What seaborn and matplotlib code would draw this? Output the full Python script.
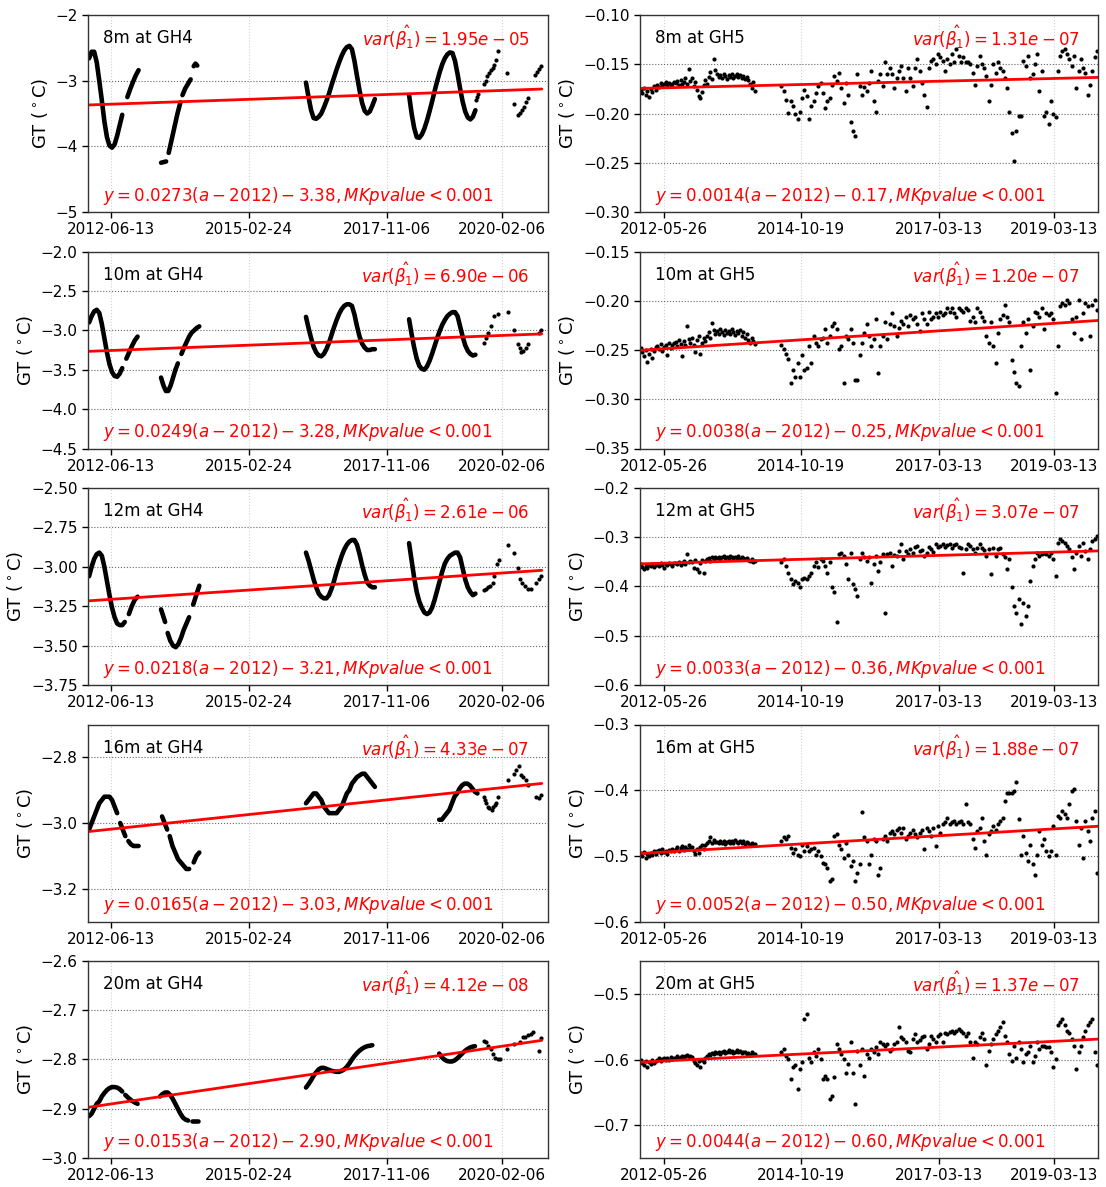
import numpy as np
import pandas as pd
import seaborn as sns
import matplotlib.pyplot as plt
from matplotlib.ticker import MultipleLocator

sns.set_style('ticks')
plt.rcParams['font.family'] = ['DejaVu Sans']
plt.rcParams['mathtext.fontset'] = 'dejavusans'
plt.rcParams['text.color'] = 'black'
plt.rcParams['axes.labelcolor'] = 'black'
plt.rcParams['xtick.color'] = 'black'
plt.rcParams['ytick.color'] = 'black'

# ---------------- panel texts / fit results ----------------
depths = ['8m', '10m', '12m', '16m', '20m']
gh4_var = ['1.95e-05', '6.90e-06', '2.61e-06', '4.33e-07', '4.12e-08']
gh5_var = ['1.31e-07', '1.20e-07', '3.07e-07', '1.88e-07', '1.37e-07']
gh4_slope = [0.0273, 0.0249, 0.0218, 0.0165, 0.0153]
gh4_icpt = [-3.38, -3.28, -3.21, -3.03, -2.90]
gh5_slope = [0.0014, 0.0038, 0.0033, 0.0052, 0.0044]
gh5_icpt = [-0.17, -0.25, -0.36, -0.50, -0.60]
# intercepts of the drawn red lines
gh4_line0 = [-3.37, -3.267, -3.216, -3.026, -2.897]
gh5_line0 = [-0.1745, -0.2503, -0.354, -0.4964, -0.604]

gh4_xticks = ['2012-06-13', '2015-02-24', '2017-11-06', '2020-02-06']
gh5_xticks = ['2012-05-26', '2014-10-19', '2017-03-13', '2019-03-13']
gh4_ylim = [(-5.0, -2.0), (-4.5, -2.0), (-3.75, -2.5), (-3.3, -2.7), (-3.0, -2.6)]
gh4_ystep = [1.0, 0.5, 0.25, 0.2, 0.1]
gh5_ylim = [(-0.30, -0.10), (-0.35, -0.15), (-0.6, -0.2), (-0.6, -0.3), (-0.75, -0.45)]
gh5_ystep = [0.05, 0.05, 0.1, 0.1, 0.1]

# ---------------- GH4 data (decimal years, GT) ----------------
gh4_8m_spans = [(2012.01, 2012.66), (2012.76, 2012.98), (2013.42, 2013.52), (2013.57, 2013.80),
                (2013.84, 2014.00), (2014.06, 2014.13), (2016.26, 2017.61), (2018.28, 2019.58)]
gh4_8m_segs = [
    [-2.66, -2.56, -2.56, -2.72, -3.00, -3.30, -3.62, -3.86, -3.99, -4.02, -3.97, -3.84, -3.68, -3.52],
    [-3.25, -3.13, -3.02, -2.92, -2.84],
    [-4.25, -4.24, -4.23],
    [-4.10, -3.90, -3.70, -3.50, -3.33],
    [-3.22, -3.12, -3.05, -2.98],
    [-2.78, -2.74, -2.77],
    [-3.03, -3.25, -3.45, -3.57, -3.58, -3.55, -3.50, -3.41, -3.31, -3.20, -3.07, -2.95, -2.83, -2.72,
     -2.62, -2.54, -2.49, -2.47, -2.52, -2.70, -2.93, -3.15, -3.34, -3.46, -3.50, -3.47, -3.38, -3.28],
    [-3.22, -3.50, -3.72, -3.86, -3.87, -3.82, -3.73, -3.61, -3.47, -3.32, -3.16, -3.01, -2.87, -2.75,
     -2.66, -2.60, -2.57, -2.58, -2.70, -2.90, -3.12, -3.32, -3.47, -3.56, -3.59, -3.55, -3.45],
]
gh4_8m_dot_t = [2019.59, 2019.61, 2019.63, 2019.74, 2019.78, 2019.81, 2019.85, 2019.88, 2019.92, 2019.95,
                2019.99, 2020.03, 2020.20, 2020.33, 2020.41, 2020.45, 2020.50, 2020.53, 2020.58, 2020.61,
                2020.74, 2020.78, 2020.83, 2020.86]
gh4_8m_dot_v = [-3.30, -3.25, -3.20, -3.05, -3.00, -2.93, -2.88, -2.84, -2.80, -2.76, -2.68, -2.55, -2.88,
                -3.36, -3.52, -3.49, -3.45, -3.40, -3.33, -3.27, -2.92, -2.87, -2.82, -2.78]

gh4_10m_spans = [(2012.01, 2012.66), (2012.74, 2012.96), (2013.42, 2013.75), (2013.82, 2014.17),
                 (2016.26, 2017.61), (2018.28, 2019.58)]
gh4_10m_segs = [
    [-2.90, -2.82, -2.76, -2.74, -2.78, -2.92, -3.10, -3.28, -3.43, -3.53, -3.58, -3.59, -3.55, -3.48],
    [-3.36, -3.28, -3.20, -3.13, -3.08],
    [-3.60, -3.70, -3.77, -3.77, -3.70, -3.60, -3.50, -3.42],
    [-3.30, -3.22, -3.15, -3.08, -3.03, -3.00, -2.97, -2.95],
    [-2.83, -2.97, -3.10, -3.21, -3.28, -3.32, -3.33, -3.30, -3.24, -3.16, -3.06, -2.96, -2.87, -2.79,
     -2.73, -2.69, -2.67, -2.67, -2.69, -2.80, -2.95, -3.08, -3.17, -3.22, -3.25, -3.25, -3.24, -3.24],
    [-2.86, -3.05, -3.22, -3.36, -3.45, -3.49, -3.50, -3.46, -3.39, -3.30, -3.20, -3.10, -3.01, -2.93,
     -2.87, -2.82, -2.79, -2.77, -2.77, -2.82, -2.95, -3.08, -3.19, -3.26, -3.30, -3.32, -3.31],
]
gh4_10m_dot_t = [2019.74, 2019.78, 2019.83, 2019.88, 2019.95, 2020.03, 2020.22, 2020.33, 2020.41, 2020.45,
                 2020.48, 2020.52, 2020.57, 2020.61, 2020.82, 2020.87]
gh4_10m_dot_v = [-3.16, -3.10, -3.03, -2.95, -2.82, -2.79, -2.77, -2.99, -3.18, -3.23, -3.27, -3.26,
                 -3.22, -3.17, -3.03, -2.99]

gh4_12m_spans = [(2012.01, 2012.71), (2012.79, 2012.96), (2013.42, 2013.50), (2013.55, 2013.97),
                 (2014.05, 2014.17), (2016.26, 2017.61), (2018.28, 2019.58)]
gh4_12m_segs = [
    [-3.06, -3.00, -2.95, -2.92, -2.91, -2.93, -3.00, -3.09, -3.18, -3.26, -3.32, -3.36, -3.37, -3.37, -3.35],
    [-3.30, -3.25, -3.21, -3.19],
    [-3.27, -3.31, -3.35],
    [-3.42, -3.47, -3.50, -3.51, -3.49, -3.45, -3.40, -3.36, -3.32],
    [-3.24, -3.20, -3.16, -3.12],
    [-2.91, -2.96, -3.02, -3.08, -3.13, -3.17, -3.19, -3.20, -3.20, -3.18, -3.14, -3.09, -3.03, -2.98,
     -2.93, -2.89, -2.86, -2.84, -2.83, -2.83, -2.86, -2.92, -2.99, -3.05, -3.10, -3.12, -3.13, -3.13],
    [-2.85, -2.96, -3.07, -3.16, -3.22, -3.26, -3.29, -3.30, -3.29, -3.26, -3.21, -3.15, -3.09, -3.03,
     -2.98, -2.95, -2.93, -2.92, -2.91, -2.91, -2.94, -3.01, -3.08, -3.13, -3.16, -3.18, -3.17],
]
gh4_12m_dot_t = [2019.74, 2019.79, 2019.83, 2019.86, 2019.92, 2019.95, 2020.00, 2020.04, 2020.22, 2020.33,
                 2020.41, 2020.45, 2020.50, 2020.55, 2020.61, 2020.66, 2020.77, 2020.82, 2020.87]
gh4_12m_dot_v = [-3.15, -3.14, -3.13, -3.12, -3.10, -3.06, -2.98, -2.96, -2.86, -2.91, -3.01, -3.08,
                 -3.10, -3.12, -3.14, -3.14, -3.10, -3.08, -3.06]

gh4_16m_spans = [(2012.01, 2012.56), (2012.62, 2012.72), (2012.78, 2012.98), (2013.44, 2013.54),
                 (2013.59, 2013.97), (2014.06, 2014.17), (2016.26, 2017.61), (2018.87, 2019.62)]
gh4_16m_segs = [
    [-3.02, -3.00, -2.98, -2.96, -2.94, -2.93, -2.92, -2.92, -2.92, -2.93, -2.95, -2.97],
    [-3.00, -3.02, -3.04],
    [-3.055, -3.065, -3.07, -3.07, -3.07],
    [-2.98, -3.00, -3.02],
    [-3.04, -3.07, -3.09, -3.11, -3.12, -3.13, -3.14, -3.14],
    [-3.12, -3.10, -3.09],
    [-2.94, -2.93, -2.92, -2.91, -2.91, -2.92, -2.93, -2.95, -2.96, -2.97, -2.97, -2.97, -2.97, -2.96,
     -2.95, -2.93, -2.91, -2.90, -2.88, -2.87, -2.86, -2.855, -2.85, -2.85, -2.86, -2.87, -2.88, -2.89],
    [-2.99, -2.99, -2.98, -2.97, -2.96, -2.94, -2.92, -2.91, -2.895, -2.885, -2.88, -2.88, -2.885,
     -2.895, -2.905, -2.91],
]
gh4_16m_dot_t = [2019.74, 2019.76, 2019.79, 2019.82, 2019.85, 2019.90, 2019.93, 2019.96, 2019.99, 2020.03,
                 2020.22, 2020.33, 2020.38, 2020.43, 2020.47, 2020.52, 2020.57, 2020.61, 2020.77, 2020.82,
                 2020.87]
gh4_16m_dot_v = [-2.92, -2.93, -2.94, -2.95, -2.955, -2.96, -2.95, -2.945, -2.94, -2.92, -2.87, -2.85,
                 -2.84, -2.825, -2.855, -2.86, -2.87, -2.885, -2.92, -2.925, -2.915]

gh4_20m_spans = [(2012.01, 2012.66), (2012.72, 2012.96), (2013.40, 2013.95), (2014.02, 2014.15),
                 (2016.26, 2017.56), (2018.87, 2019.57)]
gh4_20m_segs = [
    [-2.915, -2.91, -2.90, -2.89, -2.885, -2.875, -2.868, -2.862, -2.858, -2.856, -2.856, -2.857, -2.86, -2.865],
    [-2.872, -2.878, -2.883, -2.887, -2.89],
    [-2.875, -2.870, -2.867, -2.867, -2.872, -2.880, -2.890, -2.900, -2.910, -2.918, -2.922, -2.924],
    [-2.925, -2.925, -2.925],
    [-2.857, -2.850, -2.842, -2.833, -2.826, -2.820, -2.817, -2.817, -2.819, -2.821, -2.823, -2.824,
     -2.825, -2.825, -2.823, -2.820, -2.815, -2.808, -2.800, -2.793, -2.787, -2.782, -2.778, -2.775,
     -2.773, -2.772, -2.771],
    [-2.788, -2.795, -2.800, -2.803, -2.804, -2.804, -2.802, -2.798, -2.793, -2.788, -2.783, -2.779,
     -2.776, -2.774, -2.773],
]
gh4_20m_dot_t = [2019.75, 2019.78, 2019.83, 2019.88, 2019.92, 2019.97, 2020.02, 2020.06, 2020.20, 2020.34,
                 2020.45, 2020.52, 2020.55, 2020.61, 2020.66, 2020.71, 2020.83, 2020.86]
gh4_20m_dot_v = [-2.762, -2.765, -2.773, -2.779, -2.789, -2.796, -2.799, -2.799, -2.778, -2.769, -2.764,
                 -2.755, -2.754, -2.750, -2.748, -2.744, -2.782, -2.757]

# ---------------- GH5 data: dense 2012-2013 record, then sparser 2014.45-2019.95 ----------------
gh5_dense_span = (2012.0, 2013.99)
gh5_sparse_span = (2014.45, 2019.95)

gh5_8m_dense = [
    -0.176, -0.179, -0.174, -0.181, -0.177, -0.183, -0.175, -0.178, -0.172, -0.176,
    -0.171, -0.173, -0.169, -0.172, -0.170, -0.168, -0.171, -0.169, -0.172, -0.170, -0.168,
    -0.169, -0.167, -0.171, -0.166, -0.170, -0.168, -0.164, -0.170, -0.155, -0.167,
    -0.164, -0.172, -0.168, -0.176, -0.182, -0.184, -0.178, -0.171, -0.166,
    -0.170, -0.163, -0.158, -0.165, -0.145, -0.156,
    -0.160, -0.163, -0.161, -0.164, -0.160, -0.162, -0.165, -0.161, -0.163, -0.160, -0.164, -0.162,
    -0.160, -0.163, -0.161, -0.164, -0.162, -0.165, -0.163,
    -0.166, -0.170, -0.174, -0.168, -0.177]
gh5_8m_sparse = [
    -0.172, -0.177, -0.186, -0.199, -0.187, -0.192, -0.201, -0.206,
    -0.198, -0.184, -0.176, -0.182, -0.206, -0.192, -0.187, -0.179, -0.172, -0.169,
    -0.179, -0.194, -0.187, -0.184, -0.171, -0.162, -0.167, -0.159, -0.174,
    -0.189, -0.169, -0.181, -0.209, -0.218, -0.223,
    -0.160, -0.172, -0.181, -0.173, -0.177, -0.169, -0.157, -0.187, -0.198,
    -0.167, -0.160, -0.172, -0.148, -0.160, -0.154, -0.160, -0.174, -0.164, -0.157,
    -0.152, -0.164, -0.177, -0.154, -0.164, -0.172, -0.154, -0.145, -0.157,
    -0.169, -0.181, -0.193, -0.154, -0.147, -0.145, -0.150, -0.140, -0.143,
    -0.147, -0.157, -0.145, -0.150, -0.140, -0.148, -0.135, -0.142, -0.148, -0.143,
    -0.148, -0.148, -0.150, -0.159, -0.171, -0.152, -0.142, -0.150, -0.154,
    -0.162, -0.187, -0.171, -0.150, -0.159, -0.148, -0.154, -0.157, -0.164,
    -0.174, -0.198, -0.220, -0.248, -0.218, -0.203,
    -0.203, -0.147, -0.152, -0.142, -0.164, -0.160, -0.150, -0.140, -0.177, -0.157,
    -0.203, -0.198, -0.211, -0.187, -0.201, -0.204,
    -0.157, -0.142, -0.137, -0.135, -0.140, -0.145, -0.152, -0.142, -0.174,
    -0.157, -0.145, -0.154, -0.159, -0.181, -0.171, -0.157, -0.143, -0.137]

gh5_10m_dense = [
    -0.248, -0.252, -0.256, -0.250, -0.262, -0.254, -0.249, -0.258, -0.251, -0.247,
    -0.246, -0.249, -0.244, -0.251, -0.247, -0.245, -0.255, -0.243, -0.248, -0.245, -0.243,
    -0.242, -0.246, -0.240, -0.244, -0.256, -0.241, -0.245, -0.226, -0.239, -0.243,
    -0.238, -0.245, -0.252, -0.240, -0.236, -0.254, -0.243, -0.238, -0.241,
    -0.236, -0.232, -0.238, -0.223, -0.230, -0.234,
    -0.231, -0.234, -0.229, -0.232, -0.235, -0.230, -0.233, -0.231, -0.234, -0.229, -0.232, -0.235,
    -0.231, -0.233, -0.230, -0.236, -0.232, -0.238, -0.234,
    -0.240, -0.243, -0.238, -0.241, -0.244]
gh5_10m_sparse = [
    -0.245, -0.249, -0.254, -0.259, -0.284, -0.270, -0.277, -0.263,
    -0.277, -0.255, -0.270, -0.268, -0.246, -0.263, -0.236, -0.243, -0.246, -0.239,
    -0.238, -0.229, -0.243, -0.236, -0.226, -0.223, -0.229, -0.249, -0.246,
    -0.284, -0.236, -0.239, -0.229, -0.243, -0.280,
    -0.280, -0.255, -0.243, -0.233, -0.224, -0.236, -0.246, -0.239, -0.219,
    -0.273, -0.246, -0.236, -0.222, -0.239, -0.224, -0.212, -0.226, -0.236, -0.228,
    -0.221, -0.224, -0.216, -0.226, -0.214, -0.219, -0.217, -0.224, -0.231,
    -0.212, -0.219, -0.224, -0.211, -0.219, -0.216, -0.212, -0.217, -0.211,
    -0.214, -0.212, -0.207, -0.211, -0.207, -0.212, -0.216, -0.207, -0.209, -0.211,
    -0.207, -0.209, -0.221, -0.216, -0.222, -0.207, -0.211, -0.216, -0.221,
    -0.236, -0.243, -0.222, -0.246, -0.263, -0.233, -0.219, -0.214, -0.204,
    -0.216, -0.222, -0.260, -0.272, -0.284, -0.287,
    -0.246, -0.222, -0.233, -0.219, -0.270, -0.226, -0.211, -0.212, -0.216, -0.207,
    -0.229, -0.212, -0.214, -0.212, -0.219, -0.294,
    -0.246, -0.205, -0.202, -0.204, -0.199, -0.202, -0.219, -0.233, -0.216,
    -0.199, -0.239, -0.212, -0.202, -0.205, -0.236, -0.204, -0.199, -0.209]

gh5_12m_dense = [
    -0.355, -0.360, -0.364, -0.358, -0.362, -0.356, -0.359, -0.354, -0.361, -0.357,
    -0.355, -0.358, -0.353, -0.356, -0.362, -0.354, -0.357, -0.352, -0.355, -0.358, -0.353,
    -0.352, -0.355, -0.350, -0.357, -0.353, -0.349, -0.354, -0.334, -0.351, -0.348,
    -0.350, -0.362, -0.347, -0.365, -0.370, -0.352, -0.346, -0.372, -0.349,
    -0.345, -0.342, -0.348, -0.340, -0.344, -0.341,
    -0.342, -0.340, -0.344, -0.341, -0.339, -0.343, -0.340, -0.342, -0.338, -0.341, -0.343, -0.340,
    -0.342, -0.339, -0.344, -0.341, -0.343, -0.345, -0.342,
    -0.346, -0.349, -0.345, -0.350, -0.348]
gh5_12m_sparse = [
    -0.351, -0.344, -0.358, -0.372, -0.385, -0.395, -0.388, -0.392,
    -0.402, -0.385, -0.382, -0.385, -0.378, -0.372, -0.358, -0.351, -0.361, -0.344,
    -0.348, -0.358, -0.372, -0.351, -0.402, -0.412, -0.473, -0.334, -0.331,
    -0.338, -0.355, -0.385, -0.331, -0.395, -0.405,
    -0.419, -0.344, -0.331, -0.341, -0.348, -0.341, -0.392, -0.355, -0.338,
    -0.368, -0.351, -0.334, -0.453, -0.334, -0.331, -0.358, -0.336, -0.338, -0.327,
    -0.314, -0.344, -0.327, -0.334, -0.324, -0.331, -0.320, -0.317, -0.327,
    -0.325, -0.338, -0.331, -0.320, -0.324, -0.329, -0.314, -0.320, -0.317,
    -0.314, -0.319, -0.316, -0.313, -0.321, -0.316, -0.314, -0.319, -0.321, -0.372,
    -0.324, -0.314, -0.317, -0.323, -0.331, -0.321, -0.314, -0.321, -0.325,
    -0.338, -0.324, -0.375, -0.321, -0.338, -0.324, -0.321, -0.334, -0.341,
    -0.365, -0.344, -0.402, -0.439, -0.453, -0.426,
    -0.477, -0.433, -0.460, -0.439, -0.388, -0.358, -0.344, -0.331, -0.338, -0.334,
    -0.331, -0.334, -0.338, -0.331, -0.344, -0.378,
    -0.311, -0.304, -0.307, -0.311, -0.317, -0.324, -0.341, -0.365, -0.331,
    -0.317, -0.338, -0.311, -0.327, -0.344, -0.324, -0.307, -0.304, -0.297]

gh5_16m_dense = [
    -0.496, -0.500, -0.494, -0.503, -0.497, -0.501, -0.495, -0.499, -0.493, -0.497,
    -0.493, -0.491, -0.495, -0.490, -0.494, -0.492, -0.497, -0.491, -0.493, -0.489, -0.492,
    -0.490, -0.487, -0.492, -0.488, -0.485, -0.491, -0.486, -0.489, -0.484, -0.488,
    -0.487, -0.492, -0.497, -0.490, -0.495, -0.486, -0.484, -0.489, -0.483,
    -0.481, -0.478, -0.471, -0.480, -0.476, -0.479,
    -0.479, -0.481, -0.477, -0.480, -0.478, -0.482, -0.479, -0.477, -0.481, -0.478, -0.480, -0.476,
    -0.479, -0.481, -0.477, -0.480, -0.478, -0.482, -0.479,
    -0.481, -0.483, -0.480, -0.484, -0.482]
gh5_16m_sparse = [
    -0.478, -0.472, -0.475, -0.470, -0.488, -0.495, -0.490, -0.498,
    -0.500, -0.483, -0.493, -0.485, -0.493, -0.490, -0.488, -0.498, -0.493, -0.500,
    -0.511, -0.513, -0.518, -0.539, -0.536, -0.470, -0.467, -0.483, -0.490,
    -0.503, -0.480, -0.498, -0.516, -0.508, -0.539,
    -0.526, -0.513, -0.434, -0.472, -0.478, -0.513, -0.498, -0.475, -0.478,
    -0.529, -0.518, -0.475, -0.470, -0.478, -0.465, -0.462, -0.467, -0.460, -0.457,
    -0.465, -0.457, -0.475, -0.470, -0.465, -0.460, -0.467, -0.472, -0.465,
    -0.460, -0.490, -0.457, -0.462, -0.470, -0.457, -0.485, -0.455, -0.465,
    -0.452, -0.449, -0.442, -0.452, -0.449, -0.447, -0.452, -0.449, -0.447, -0.452,
    -0.421, -0.449, -0.452, -0.475, -0.488, -0.462, -0.457, -0.442, -0.478,
    -0.498, -0.467, -0.462, -0.455, -0.460, -0.452, -0.447, -0.442, -0.416,
    -0.404, -0.404, -0.404, -0.401, -0.388, -0.444,
    -0.498, -0.470, -0.495, -0.508, -0.483, -0.513, -0.529, -0.498, -0.462, -0.483,
    -0.475, -0.493, -0.500, -0.493, -0.455, -0.498,
    -0.439, -0.442, -0.432, -0.437, -0.442, -0.421, -0.401, -0.398, -0.447,
    -0.483, -0.457, -0.503, -0.447, -0.462, -0.478, -0.442, -0.432, -0.526]

gh5_20m_dense = [
    -0.601, -0.605, -0.609, -0.603, -0.611, -0.604, -0.607, -0.600, -0.606, -0.602,
    -0.600, -0.598, -0.602, -0.599, -0.597, -0.601, -0.598, -0.600, -0.596, -0.599, -0.597,
    -0.597, -0.595, -0.598, -0.596, -0.594, -0.597, -0.595, -0.593, -0.596, -0.594,
    -0.596, -0.602, -0.605, -0.609, -0.603, -0.611, -0.600, -0.604, -0.598,
    -0.594, -0.591, -0.593, -0.590, -0.592, -0.589,
    -0.590, -0.588, -0.591, -0.589, -0.587, -0.590, -0.588, -0.586, -0.589, -0.587, -0.590, -0.588,
    -0.586, -0.589, -0.587, -0.590, -0.588, -0.589, -0.591,
    -0.590, -0.593, -0.589, -0.592, -0.591]
gh5_20m_sparse = [
    -0.589, -0.584, -0.594, -0.599, -0.630, -0.612, -0.609, -0.645,
    -0.614, -0.604, -0.538, -0.530, -0.597, -0.604, -0.589, -0.594, -0.584, -0.599,
    -0.630, -0.625, -0.630, -0.660, -0.655, -0.627, -0.576, -0.584, -0.592,
    -0.599, -0.620, -0.607, -0.574, -0.620, -0.668,
    -0.587, -0.609, -0.584, -0.625, -0.592, -0.597, -0.584, -0.589, -0.581,
    -0.592, -0.574, -0.576, -0.579, -0.576, -0.587, -0.584, -0.576, -0.574, -0.551,
    -0.566, -0.569, -0.574, -0.587, -0.589, -0.569, -0.561, -0.574, -0.571,
    -0.566, -0.564, -0.584, -0.576, -0.564, -0.569, -0.574, -0.564, -0.561,
    -0.574, -0.559, -0.561, -0.558, -0.556, -0.559, -0.556, -0.553, -0.556, -0.559,
    -0.564, -0.559, -0.574, -0.597, -0.574, -0.576, -0.566, -0.559, -0.569,
    -0.609, -0.587, -0.576, -0.569, -0.561, -0.556, -0.551, -0.543, -0.564,
    -0.574, -0.592, -0.602, -0.579, -0.597, -0.574,
    -0.584, -0.604, -0.592, -0.589, -0.579, -0.604, -0.594, -0.574, -0.584, -0.579,
    -0.579, -0.581, -0.581, -0.589, -0.612, -0.599,
    -0.548, -0.543, -0.538, -0.548, -0.556, -0.559, -0.569, -0.579, -0.614,
    -0.589, -0.579, -0.566, -0.556, -0.548, -0.543, -0.538, -0.589, -0.609]

gh4_spans = [gh4_8m_spans, gh4_10m_spans, gh4_12m_spans, gh4_16m_spans, gh4_20m_spans]
gh4_segs = [gh4_8m_segs, gh4_10m_segs, gh4_12m_segs, gh4_16m_segs, gh4_20m_segs]
gh4_dot_t = [gh4_8m_dot_t, gh4_10m_dot_t, gh4_12m_dot_t, gh4_16m_dot_t, gh4_20m_dot_t]
gh4_dot_v = [gh4_8m_dot_v, gh4_10m_dot_v, gh4_12m_dot_v, gh4_16m_dot_v, gh4_20m_dot_v]
gh5_dense = [gh5_8m_dense, gh5_10m_dense, gh5_12m_dense, gh5_16m_dense, gh5_20m_dense]
gh5_sparse = [gh5_8m_sparse, gh5_10m_sparse, gh5_12m_sparse, gh5_16m_sparse, gh5_20m_sparse]


def yr(t):
    # decimal year -> timestamps
    t = np.atleast_1d(np.asarray(t, dtype=float))
    return pd.Timestamp('2012-01-01') + pd.to_timedelta((t - 2012.0) * 365.25, unit='D')


def span_dates(t0, t1, n):
    return pd.date_range(yr(t0)[0], yr(t1)[0], periods=n)


def style_axis(ax, ylim, ystep, xticks, xlim, label, var, slope, icpt):
    ax.set_ylim(*ylim)
    ax.yaxis.set_major_locator(MultipleLocator(ystep))
    ax.set_xticks(pd.to_datetime(xticks))
    ax.set_xticklabels(xticks)
    ax.set_xlim(pd.Timestamp(xlim[0]), pd.Timestamp(xlim[1]))
    ax.grid(axis='y', linestyle=':', color='0.4', linewidth=0.8)
    ax.grid(axis='x', linestyle=':', color='0.82', linewidth=0.8)
    ax.set_axisbelow(True)
    ax.tick_params(labelsize=11, length=4, width=1)
    for s in ax.spines.values():
        s.set_linewidth(1.0)
        s.set_color('0.2')
    ax.set_xlabel('')
    ax.set_ylabel(r'GT ($^\circ$C)', fontsize=13)
    ax.text(0.033, 0.883, label, transform=ax.transAxes, fontsize=12, va='center', ha='left',
            color='black')
    ax.text(0.96, 0.883, r'$var(\hat{\beta_1}) = %s$' % var,
            transform=ax.transAxes, fontsize=12, va='center', ha='right', color='red')
    ax.text(0.033, 0.082, r'$y = %.4f(a-2012) - %.2f, MKpvalue < 0.001$' % (slope, -icpt),
            transform=ax.transAxes, fontsize=12, va='center', ha='left', color='red')


fig = plt.figure(figsize=(11.06, 11.87), dpi=100)
W, H = 1106.0, 1187.0

for i in range(5):
    top = 15 + 236.5 * i
    bottom = 1 - (top + 197) / H

    # ---- left column: GH4 ----
    ax = fig.add_axes([88 / W, bottom, 460 / W, 197 / H])
    for (t0, t1), vals in zip(gh4_spans[i], gh4_segs[i]):
        sns.lineplot(x=span_dates(t0, t1, len(vals)), y=vals, ax=ax, color='black',
                     linewidth=3.3, estimator=None, solid_capstyle='round')
    sns.scatterplot(x=yr(gh4_dot_t[i]), y=gh4_dot_v[i], ax=ax, color='black', s=9, linewidth=0)
    lt = [2012.0, 2020.88]
    sns.lineplot(x=yr(lt), y=[gh4_line0[i] + gh4_slope[i] * (t - 2012) for t in lt], ax=ax,
                 color='red', linewidth=2.0, estimator=None)
    style_axis(ax, gh4_ylim[i], gh4_ystep[i], gh4_xticks, ('2011-12-28', '2021-01-01'),
               depths[i] + ' at GH4', gh4_var[i], gh4_slope[i], gh4_icpt[i])

    # ---- right column: GH5 ----
    ax = fig.add_axes([640 / W, bottom, 458 / W, 197 / H])
    xd = span_dates(*gh5_dense_span, len(gh5_dense[i]))
    xs = span_dates(*gh5_sparse_span, len(gh5_sparse[i]))
    sns.scatterplot(x=xd.append(xs), y=gh5_dense[i] + gh5_sparse[i], ax=ax, color='black',
                    s=9, linewidth=0)
    lt = [2011.98, 2019.97]
    sns.lineplot(x=yr(lt), y=[gh5_line0[i] + gh5_slope[i] * (t - 2012) for t in lt], ax=ax,
                 color='red', linewidth=2.0, estimator=None)
    style_axis(ax, gh5_ylim[i], gh5_ystep[i], gh5_xticks, ('2011-12-27', '2019-12-20'),
               depths[i] + ' at GH5', gh5_var[i], gh5_slope[i], gh5_icpt[i])

fig.savefig('out.png', dpi=100)
